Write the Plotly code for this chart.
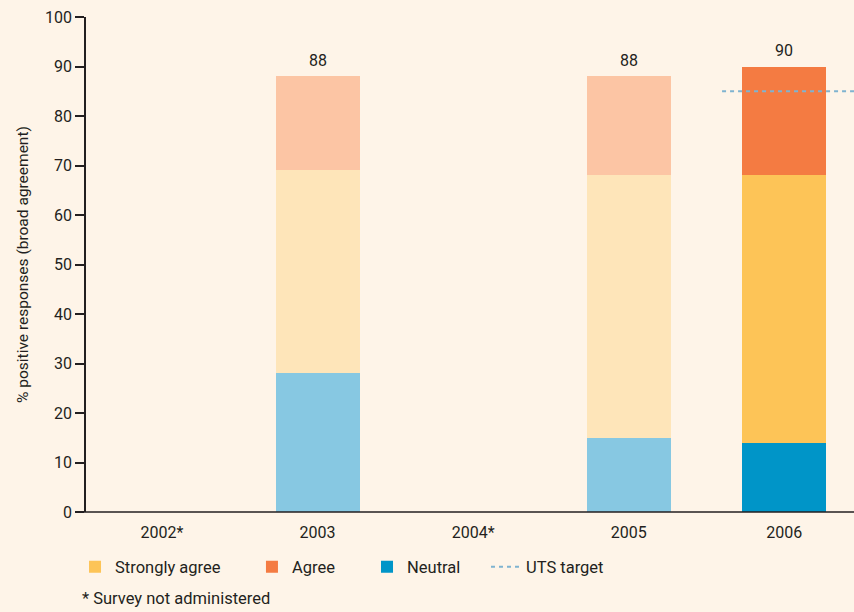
import plotly.graph_objs as go

####### DATA ######
years = ["2002*", "2003", "2004*", "2005", "2006"]
neutral = [None, 28, None, 15, 14]
strongly_agree = [None, 41, None, 53, 54]
agree = [None, 19, None, 20, 22]
totals = [None, 88, None, 88, 90]
uts_target = 85
target_from = 3.6   # the target line only runs over the 2006 bar

# light shades for earlier years, full colours for the current year
current = [False, False, False, False, True]
colors = {
    "Neutral": ("#87c8e2", "#0095c8"),
    "Strongly agree": ("#fee5b9", "#fdc457"),
    "Agree": ("#fcc5a4", "#f47b42"),
}
# one legend per entry so that each can sit where the original has it
legend_of = {"Strongly agree": "legend", "Agree": "legend2", "Neutral": "legend3", "UTS target": "legend4"}
legend_x = {"legend": -0.0143, "legend2": 0.2161, "legend3": 0.3659, "legend4": 0.5208}

x = list(range(len(years)))
fig = go.Figure()

# stacked bars: neutral at the bottom, agree on top
for name, vals in [("Neutral", neutral), ("Strongly agree", strongly_agree), ("Agree", agree)]:
    light, dark = colors[name]
    fig.add_trace(go.Bar(
        x=x, y=[v if not c else None for v, c in zip(vals, current)],
        marker=dict(color=light, line=dict(width=0)), width=0.54,
        name=name, showlegend=False, hoverinfo="skip"
    ))
    fig.add_trace(go.Bar(
        x=x, y=[v if c else None for v, c in zip(vals, current)],
        marker=dict(color=dark, line=dict(width=0)), width=0.54,
        name=name, legend=legend_of[name]
    ))

# UTS target
fig.add_trace(go.Scatter(
    x=[target_from, len(years) - 0.5], y=[uts_target, uts_target], mode="lines",
    line=dict(color="#7fb3d0", width=2, dash="4px,4px"),
    name="UTS target", legend=legend_of["UTS target"]
))

# total labels above bars
notes = [dict(x=xi, y=t, text=str(t), showarrow=False, yshift=16, yanchor="middle",
              font=dict(size=16))
         for xi, t in zip(x, totals) if t]
notes.append(dict(
    text="* Survey not administered", xref="paper", yref="paper",
    x=-0.008, y=-0.1757, xanchor="left", yanchor="middle", showarrow=False,
    font=dict(size=16.5)
))

legend_style = dict(orientation="h", xanchor="left", y=-0.111, yanchor="middle",
                    bgcolor="rgba(0,0,0,0)", font=dict(size=16.5))

fig.update_layout(
    width=854, height=612,
    barmode="stack",
    paper_bgcolor="#fef4e8", plot_bgcolor="#fef4e8",
    font=dict(family="Roboto", size=16, color="#231f20"),
    margin=dict(l=86, r=0, t=17, b=100),
    showlegend=True,
    xaxis=dict(
        range=[-0.488, 4.448], tickvals=x, ticktext=years,
        showgrid=False, zeroline=False, showline=False,
        ticks="outside", ticklen=6, tickcolor="rgba(0,0,0,0)",
        tickfont=dict(size=16)
    ),
    yaxis=dict(
        range=[0, 100], dtick=10, showgrid=False, zeroline=False,
        showline=True, linecolor="#231f20", linewidth=1.5,
        ticks="outside", ticklen=9, tickcolor="#231f20", tickwidth=1.5,
        tickfont=dict(size=16),
        title=dict(text="% positive responses (broad agreement)", font=dict(size=15.5), standoff=13)
    ),
    annotations=notes
)
for key, lx in legend_x.items():
    fig.update_layout({key: dict(legend_style, x=lx)})

# x axis line drawn across the full plot width
fig.add_shape(type="line", xref="paper", yref="paper", x0=-0.012, x1=1, y0=0, y1=0,
              line=dict(color="#231f20", width=1.5))

fig.write_html("out.html", config={"displayModeBar": False},
               post_script="document.body.style.margin='0';")
